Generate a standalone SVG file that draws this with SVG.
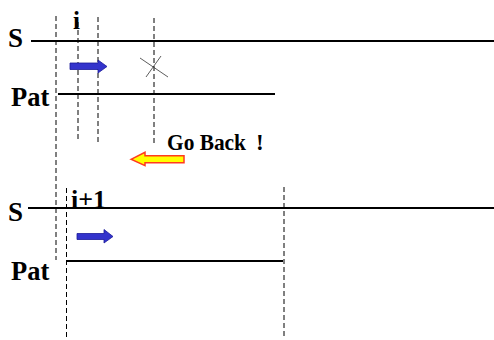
<svg xmlns="http://www.w3.org/2000/svg" width="494" height="340" viewBox="0 0 494 340">
<style>
.lbl{font-family:"Liberation Serif","Times New Roman",serif;font-weight:bold;fill:#000}
.solid{stroke:#000;stroke-width:2;fill:none}
.dash{stroke:#000;stroke-width:1;stroke-dasharray:5,3;fill:none}
.blue{fill:#3333cc;stroke:#1a1a99;stroke-width:0.8}
.yel{fill:#ffff00;stroke:#ff3b1f;stroke-width:1.5}
</style>
<rect width="494" height="340" fill="#fff"/>
<g id="connectors">
<line class="dash" x1="56" y1="16" x2="56" y2="260"/>
<line class="dash" x1="78" y1="22" x2="78" y2="142"/>
<line class="dash" x1="98" y1="17" x2="98" y2="143"/>
<line class="dash" x1="154" y1="18" x2="154" y2="143"/>
<line class="dash" x1="66.5" y1="188" x2="66.5" y2="338"/>
<line class="dash" x1="284" y1="187" x2="284" y2="338"/>
</g>
<g id="S1">
<text class="lbl" x="8" y="47" font-size="27">S</text>
<line class="solid" x1="31" y1="41" x2="494" y2="41"/>
</g>
<g id="i1">
<text class="lbl" x="73" y="29" font-size="25">i</text>
</g>
<g id="Pat1">
<text class="lbl" x="11" y="106" font-size="26.5">Pat</text>
<line class="solid" x1="58" y1="94" x2="275" y2="94"/>
</g>
<g id="arrow1">
<polygon class="blue" points="70,63 98,63 98,60 107,66.5 98,73 98,69.5 70,69.5"/>
</g>
<g id="cross">
<line x1="140" y1="58" x2="168" y2="77" stroke="#333" stroke-width="0.8"/>
<line x1="146" y1="77" x2="161" y2="56" stroke="#333" stroke-width="0.8"/>
</g>
<g id="goback">
<polygon class="yel" points="131,159.3 145,152.3 145,155.7 184,155.7 184,162.7 145,162.7 145,165.7"/>
<text class="lbl" x="167" y="150" font-size="23"><tspan textLength="79" lengthAdjust="spacingAndGlyphs">Go Back</tspan><tspan x="256">!</tspan></text>
</g>
<g id="S2">
<text class="lbl" x="8" y="221" font-size="27">S</text>
<line class="solid" x1="28" y1="208" x2="494" y2="208"/>
</g>
<g id="i2">
<text class="lbl" x="71" y="208" font-size="26">i+1</text>
</g>
<g id="arrow2">
<polygon class="blue" points="77,233.5 104,233.5 104,229.5 113,236.5 104,243 104,239.5 77,239.5"/>
</g>
<g id="Pat2">
<text class="lbl" x="11" y="280" font-size="26.5">Pat</text>
<line class="solid" x1="66.5" y1="261" x2="283" y2="261"/>
</g>
</svg>
